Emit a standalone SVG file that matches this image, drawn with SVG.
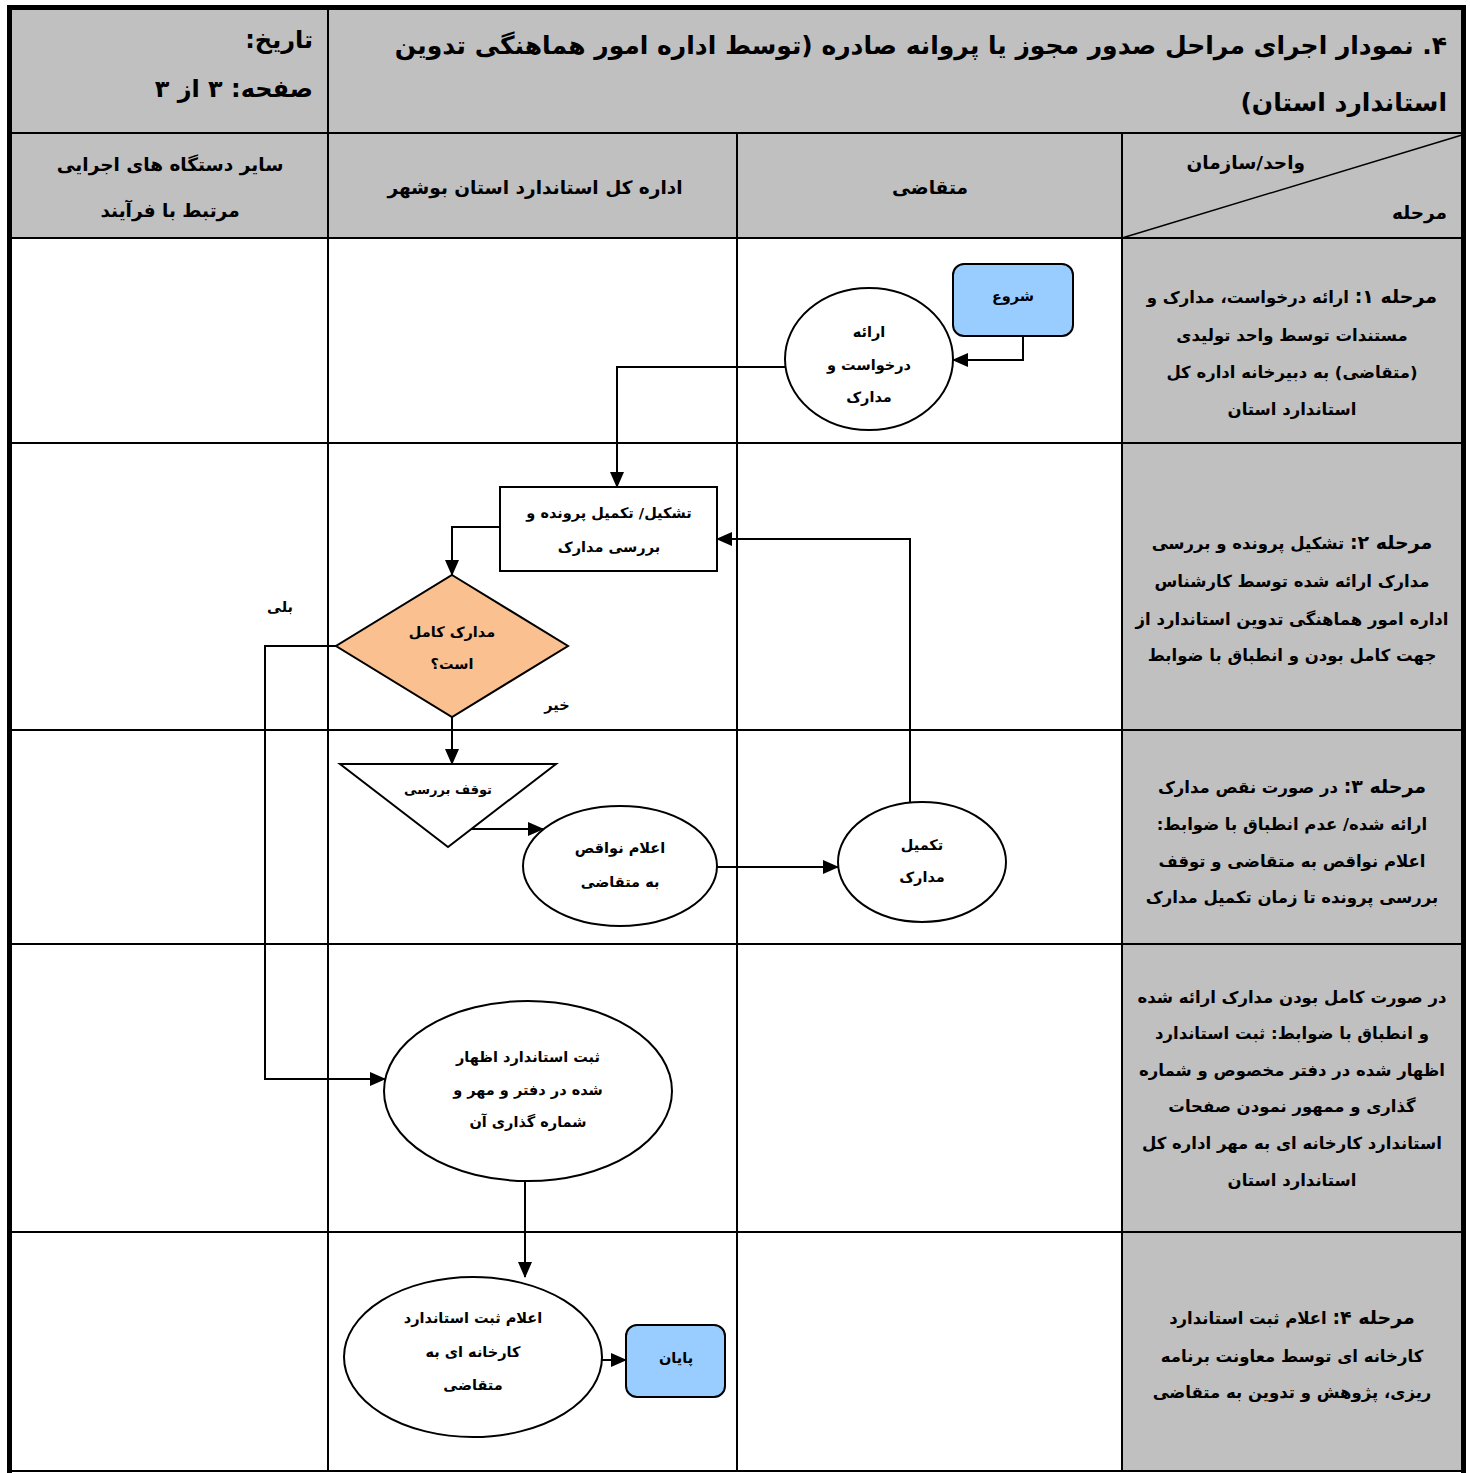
<svg xmlns="http://www.w3.org/2000/svg" width="1470" height="1473" viewBox="0 0 1470 1473">
<style>
text{font-family:"DejaVu Sans","Noto Sans",sans-serif;font-weight:bold;fill:#000;direction:rtl;unicode-bidi:embed}
.c{text-anchor:middle}
.r{text-anchor:start}
.grid{stroke:#000;stroke-width:2;fill:none}
.node{stroke:#000;stroke-width:2}
.conn{stroke:#000;stroke-width:2;fill:none}
.t{font-size:14.5px}
.s{font-size:16.5px}
.sb{font-size:19px}
.h{font-size:18.5px}
.ti{font-size:25px}
</style>
<defs>
<marker id="ah" markerUnits="userSpaceOnUse" markerWidth="16" markerHeight="14" refX="15" refY="7" orient="auto">
<path d="M0,0 L16,7 L0,14 Z" fill="#000"/>
</marker>
</defs>
<g id="background">
<rect x="9" y="8" width="1454" height="230" fill="#c0c0c0"/>
<rect x="1122" y="238" width="341" height="1233" fill="#c0c0c0"/>
<rect x="9" y="238" width="1113" height="1233" fill="#fff"/>
</g>
<g id="grid">
<line class="grid" x1="9" y1="133" x2="1463" y2="133"/>
<line class="grid" x1="9" y1="238" x2="1463" y2="238"/>
<line class="grid" x1="9" y1="443" x2="1463" y2="443"/>
<line class="grid" x1="9" y1="730" x2="1463" y2="730"/>
<line class="grid" x1="9" y1="944" x2="1463" y2="944"/>
<line class="grid" x1="9" y1="1232" x2="1463" y2="1232"/>
<line class="grid" x1="328" y1="8" x2="328" y2="1471"/>
<line class="grid" x1="737" y1="133" x2="737" y2="1471"/>
<line class="grid" x1="1122" y1="133" x2="1122" y2="1471"/>
<line stroke="#000" stroke-width="1.5" x1="1122" y1="238" x2="1462" y2="135"/>
<line stroke="#000" stroke-width="5" x1="7" y1="7.5" x2="1466" y2="7.5"/>
<line stroke="#000" stroke-width="5" x1="9.5" y1="5" x2="9.5" y2="1473"/>
<line stroke="#000" stroke-width="5" x1="1463.5" y1="5" x2="1463.5" y2="1473"/>
<line stroke="#000" stroke-width="2" x1="7" y1="1471" x2="1466" y2="1471"/>
</g>
<g id="header">
<text class="r ti" x="1447" y="54">۴. نمودار اجرای مراحل صدور مجوز یا پروانه صادره (توسط اداره امور هماهنگی تدوین</text>
<text class="r ti" x="1447" y="111">استاندارد استان)</text>
<text class="r" x="313" y="48" style="font-size:24px">تاریخ:</text>
<text class="r" x="313" y="97" style="font-size:24px">صفحه:  ۳ از ۳</text>
<text class="c h" x="170" y="171">سایر دستگاه های اجرایی</text>
<text class="c h" x="170" y="217">مرتبط با فرآیند</text>
<text class="c h" x="535" y="194">اداره کل استاندارد استان بوشهر</text>
<text class="c h" x="930" y="194">متقاضی</text>
<text class="r h" x="1305" y="169">واحد/سازمان</text>
<text class="r h" x="1447" y="219">مرحله</text>
</g>
<g id="stages">
<text class="c s" x="1292" y="303"><tspan class="sb">مرحله ۱:</tspan> ارائه درخواست، مدارک و</text>
<text class="c s" x="1292" y="341">مستندات توسط واحد تولیدی</text>
<text class="c s" x="1292" y="378">(متقاضی) به دبیرخانه اداره کل</text>
<text class="c s" x="1292" y="415">استاندارد استان</text>
<text class="c s" x="1292" y="549"><tspan class="sb">مرحله ۲:</tspan> تشکیل پرونده و بررسی</text>
<text class="c s" x="1292" y="587">مدارک ارائه شده توسط کارشناس</text>
<text class="c s" x="1292" y="625">اداره امور هماهنگی تدوین استاندارد از</text>
<text class="c s" x="1292" y="661">جهت کامل بودن و انطباق با ضوابط</text>
<text class="c s" x="1292" y="793"><tspan class="sb">مرحله ۳:</tspan> در صورت نقص مدارک</text>
<text class="c s" x="1292" y="830">ارائه شده/ عدم انطباق با ضوابط:</text>
<text class="c s" x="1292" y="867">اعلام نواقص به متقاضی و توقف</text>
<text class="c s" x="1292" y="903">بررسی پرونده تا زمان تکمیل مدارک</text>
<text class="c s" x="1292" y="1003">در صورت کامل بودن مدارک ارائه شده</text>
<text class="c s" x="1292" y="1039">و انطباق با ضوابط: ثبت استاندارد</text>
<text class="c s" x="1292" y="1076">اظهار شده در دفتر مخصوص و شماره</text>
<text class="c s" x="1292" y="1112">گذاری و ممهور نمودن صفحات</text>
<text class="c s" x="1292" y="1149">استاندارد کارخانه ای به مهر اداره کل</text>
<text class="c s" x="1292" y="1186">استاندارد استان</text>
<text class="c s" x="1292" y="1324"><tspan class="sb">مرحله ۴:</tspan> اعلام ثبت استاندارد</text>
<text class="c s" x="1292" y="1362">کارخانه ای توسط معاونت برنامه</text>
<text class="c s" x="1292" y="1398">ریزی، پژوهش و تدوین به متقاضی</text>
</g>
<g id="connectors">
<path class="conn" d="M1023,336 V360 H953" marker-end="url(#ah)"/>
<path class="conn" d="M785,367 H617 V487" marker-end="url(#ah)"/>
<path class="conn" d="M910,803 V539 H717" marker-end="url(#ah)"/>
<path class="conn" d="M500,527 H452 V575" marker-end="url(#ah)"/>
<path class="conn" d="M336,646 H265 V1079 H385" marker-end="url(#ah)"/>
<path class="conn" d="M452,717 V764" marker-end="url(#ah)"/>
<path class="conn" d="M468,829 H543" marker-end="url(#ah)"/>
<path class="conn" d="M717,867 H838" marker-end="url(#ah)"/>
<path class="conn" d="M525,1181 V1277" marker-end="url(#ah)"/>
<path class="conn" d="M602,1360 H626" marker-end="url(#ah)"/>
</g>
<g id="start">
<rect class="node" x="953" y="264" width="120" height="72" rx="11" fill="#99ccff"/>
<text class="c t" x="1013" y="301">شروع</text>
</g>
<g id="submit">
<ellipse class="node" cx="869" cy="359" rx="84" ry="71" fill="#fff"/>
<text class="c t" x="869" y="337">ارائه</text>
<text class="c t" x="869" y="370">درخواست و</text>
<text class="c t" x="869" y="402">مدارک</text>
</g>
<g id="dossier">
<rect class="node" x="500" y="487" width="217" height="84" fill="#fff"/>
<text class="c t" x="609" y="518">تشکیل/ تکمیل پرونده و</text>
<text class="c t" x="609" y="552">بررسی مدارک</text>
</g>
<g id="decision">
<polygon class="node" points="452,575 568,646 452,717 336,646" fill="#fac090"/>
<text class="c t" x="452" y="637">مدارک کامل</text>
<text class="c t" x="452" y="669">است؟</text>
</g>
<g id="labels">
<text class="c t" x="280" y="612">بلی</text>
<text class="c t" x="557" y="710">خیر</text>
</g>
<g id="stop">
<polygon class="node" points="340,764 556,764 448,847" fill="#fff"/>
<text class="c" x="448" y="794" style="font-size:13px">توقف بررسی</text>
</g>
<g id="notify">
<ellipse class="node" cx="620" cy="866" rx="97" ry="60" fill="#fff"/>
<text class="c t" x="620" y="853">اعلام نواقص</text>
<text class="c t" x="620" y="887">به متقاضی</text>
</g>
<g id="complete">
<ellipse class="node" cx="922" cy="862" rx="84" ry="60" fill="#fff"/>
<text class="c t" x="922" y="850">تکمیل</text>
<text class="c t" x="922" y="882">مدارک</text>
</g>
<g id="register">
<ellipse class="node" cx="528" cy="1091" rx="144" ry="90" fill="#fff"/>
<text class="c t" x="528" y="1062">ثبت استاندارد اظهار</text>
<text class="c t" x="528" y="1095">شده در دفتر و مهر و</text>
<text class="c t" x="528" y="1127">شماره گذاری آن</text>
</g>
<g id="announce">
<ellipse class="node" cx="473" cy="1357" rx="129" ry="80" fill="#fff"/>
<text class="c t" x="473" y="1323">اعلام ثبت استاندارد</text>
<text class="c t" x="473" y="1357">کارخانه ای به</text>
<text class="c t" x="473" y="1390">متقاضی</text>
</g>
<g id="end">
<rect class="node" x="626" y="1325" width="99" height="72" rx="11" fill="#99ccff"/>
<text class="c t" x="676" y="1363">پایان</text>
</g>
</svg>
